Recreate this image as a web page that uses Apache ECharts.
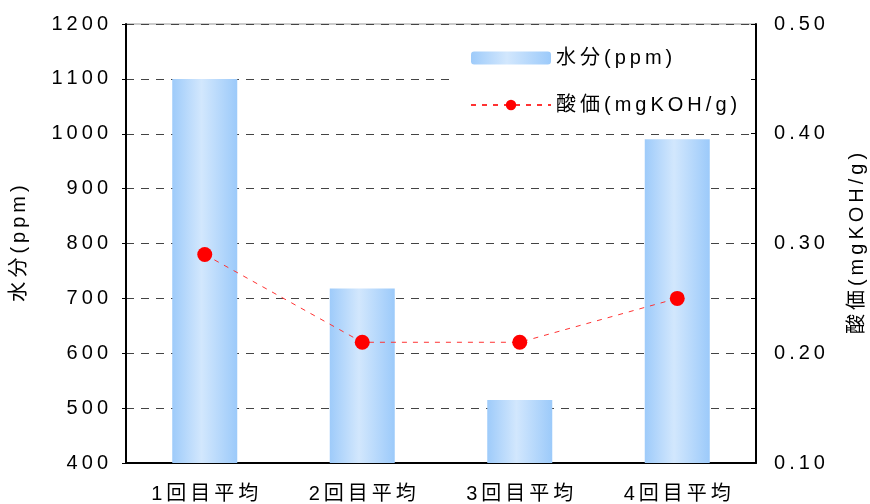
<!DOCTYPE html>
<html>
<head>
<meta charset="utf-8">
<script src="https://cdn.jsdelivr.net/npm/echarts@6/dist/echarts.min.js"></script>
<style>
  html, body { margin: 0; padding: 0; background: #fff; }
  #show { width: 870px; height: 504px; }
</style>
</head>
<body>
<div id="show"></div>
<script>
var categories = ['1回目平均', '2回目平均', '3回目平均', '4回目平均'];
var waterPpm = [1100, 718, 515, 990];
var acidValue = [0.29, 0.21, 0.21, 0.25];
var waterTicks = { min: 400, max: 1200, interval: 100 };
var acidTicks = { min: 0.1, max: 0.5, interval: 0.1 };

var font = '"Liberation Sans", Arial, "Noto Sans CJK JP", sans-serif';
// 元の図は字間が広いので細いスペース(U+2009)で広げる
function spread(s) { return String(s).split('').join('\u2009'); }

var myChart = echarts.init(document.getElementById('show'));

var barColor = new echarts.graphic.LinearGradient(0, 0, 1, 0, [
    { offset: 0, color: '#9ecbfa' },
    { offset: 0.45, color: '#d2e7fd' },
    { offset: 1, color: '#9ccafa' }
]);

var option = {
    backgroundColor: '#fff',
    textStyle: { fontFamily: font, color: '#000' },
    grid: {
        left: 126, right: 114, top: 24, bottom: 41,
        outerBoundsMode: 'none', containLabel: false,
        show: true, borderColor: '#999', borderWidth: 1, backgroundColor: 'transparent'
    },
    legend: {
        orient: 'vertical',
        left: 452,
        top: 38,
        padding: [10, 13, 10, 18],
        backgroundColor: '#fff',
        itemWidth: 80,
        itemHeight: 13,
        itemGap: 27,
        textStyle: { fontSize: 20, color: '#000', fontFamily: font },
        formatter: function (name) { return spread(name); },
        data: ['水分(ppm)', '酸価(mgKOH/g)']
    },
    xAxis: {
        type: 'category',
        data: categories,
        axisLine: { lineStyle: { color: '#000', width: 2 } },
        axisTick: { inside: true, length: 6, lineStyle: { color: '#000' } },
        axisLabel: {
            fontSize: 20, color: '#000', margin: 21, fontFamily: font,
            formatter: function (v) { return spread(v); }
        }
    },
    yAxis: [
        {
            type: 'value',
            name: spread('水分(ppm)'),
            nameLocation: 'middle',
            nameGap: 97,
            nameRotate: 90,
            nameTextStyle: { fontSize: 20, color: '#000', fontFamily: font },
            min: waterTicks.min,
            max: waterTicks.max,
            interval: waterTicks.interval,
            axisLine: { show: true, lineStyle: { color: '#000', width: 2 } },
            axisTick: { show: true, length: 4, lineStyle: { color: '#000' } },
            axisLabel: {
                fontSize: 20, color: '#000', margin: 18, fontFamily: font,
                formatter: function (v) { return spread(v); }
            },
            splitLine: { lineStyle: { color: '#444', type: [8, 7], width: 1 } }
        },
        {
            type: 'value',
            name: spread('酸価(mgKOH/g)'),
            nameLocation: 'middle',
            nameGap: 91,
            nameRotate: 90,
            nameTextStyle: { fontSize: 20, color: '#000', fontFamily: font },
            min: acidTicks.min,
            max: acidTicks.max,
            interval: acidTicks.interval,
            axisLine: { show: true, lineStyle: { color: '#000', width: 2 } },
            axisTick: { show: true, inside: true, length: 5, lineStyle: { color: '#000' } },
            minorTick: { show: true, splitNumber: 2, length: 5, lineStyle: { color: '#000' } },
            axisLabel: {
                fontSize: 20, color: '#000', margin: 18, fontFamily: font,
                formatter: function (v) { return spread(v.toFixed(2)); }
            },
            splitLine: { show: false }
        }
    ],
    series: [
        {
            name: '水分(ppm)',
            type: 'bar',
            barWidth: 65,
            itemStyle: { color: barColor },
            data: waterPpm
        },
        {
            name: '酸価(mgKOH/g)',
            type: 'line',
            yAxisIndex: 1,
            symbol: 'circle',
            symbolSize: 15,
            itemStyle: { color: '#ff0000' },
            lineStyle: { color: '#ff3333', type: [5, 6], width: 1 },
            data: acidValue
        }
    ]
};

myChart.setOption(option);
</script>
</body>
</html>
